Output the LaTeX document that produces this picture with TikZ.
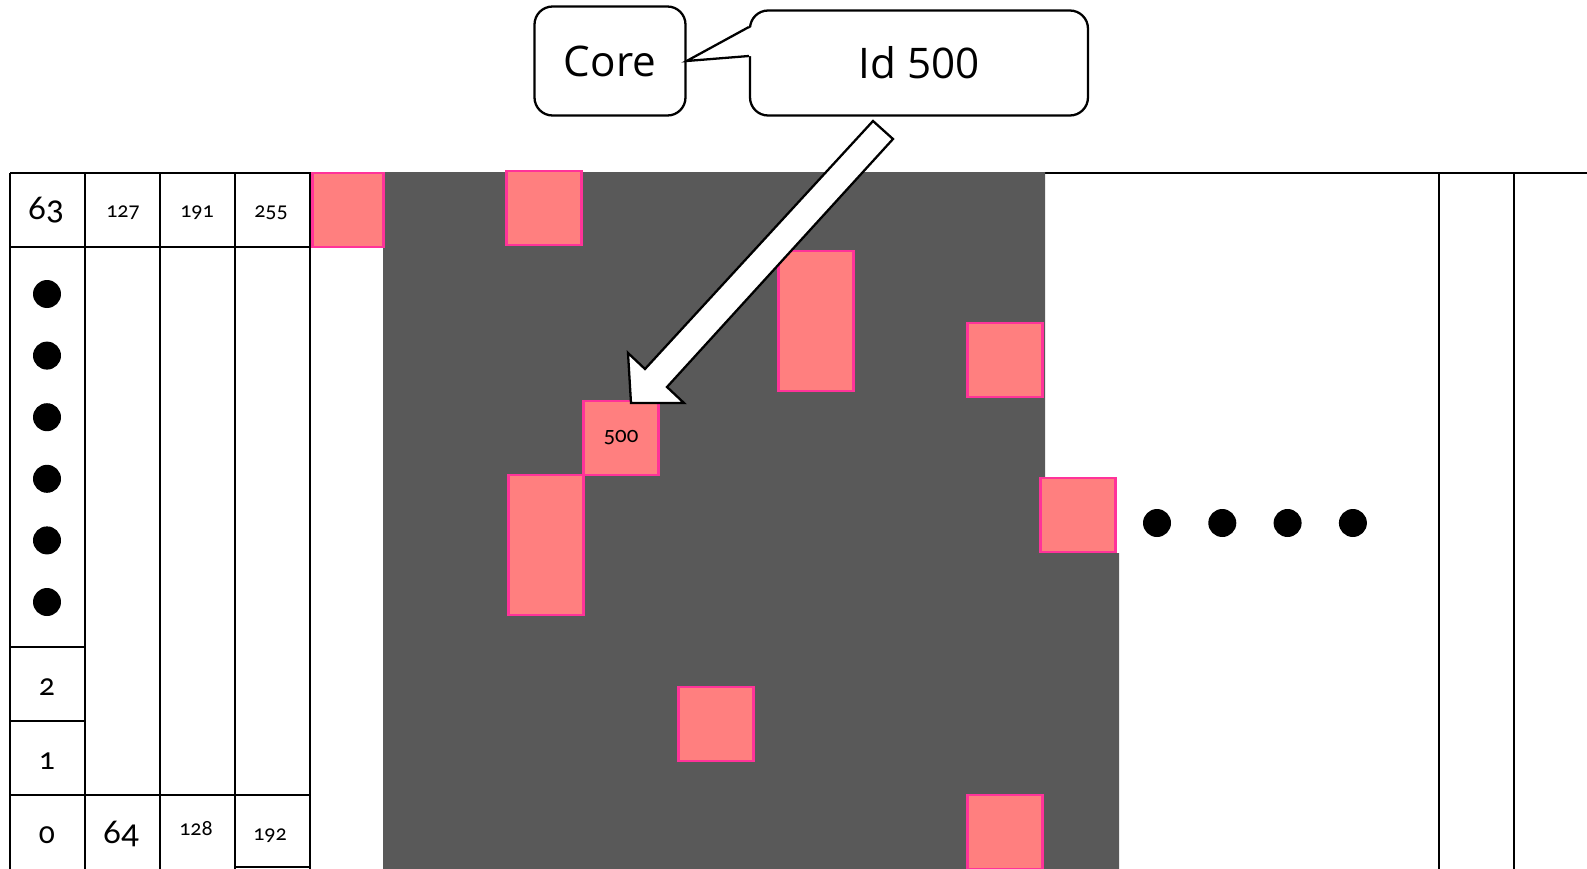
\documentclass[tikz,border=0pt]{standalone}
\usepackage{fontspec}
\setmainfont{Open Sans}
\newfontfamily\numfont[Numbers=OldStyle]{Carlito}
\usetikzlibrary{positioning,calc}
\definecolor{coregray}{HTML}{595959}
\definecolor{hitfill}{HTML}{FF7F7F}
\definecolor{hitline}{HTML}{FF3399}

\begin{document}
\begin{tikzpicture}[x=0.02cm, y=-0.02cm,
    gridline/.style={line width=1.3pt},
    smallnum/.style={anchor=base, inner sep=0pt, font=\numfont\fontsize{12.5}{12.5}\selectfont},
    midnum/.style={anchor=base, inner sep=0pt, font=\numfont\fontsize{18}{18}\selectfont},
    bignum/.style={anchor=base, inner sep=0pt, font=\numfont\fontsize{20}{20}\selectfont},
    hit/.style={draw=hitline, fill=hitfill, line width=1.2pt, minimum width=1.5cm, minimum height=1.48cm, inner sep=0pt, font=\numfont\fontsize{13}{13}\selectfont},
    tallhit/.style={hit, minimum height=2.8cm},
    dot/.style={circle, fill=black, minimum size=0.56cm, inner sep=0pt},
    bubble/.style={draw, rounded corners=0.36cm, line width=1.3pt, fill=white, inner sep=0pt, font=\fontsize{24}{24}\selectfont}
]
    \useasboundingbox (0,0) rectangle (1587,869);

    % table on the left and lines on the right
    \draw[gridline] (10,173) -- (1587,173);
    \foreach \x in {10,85,160,235,310,1439,1514}
        \draw[gridline] (\x,173) -- (\x,869);
    \draw[gridline] (10,247) -- (310,247);
    \draw[gridline] (10,647) -- (85,647);
    \draw[gridline] (10,721) -- (85,721);
    \draw[gridline] (10,795) -- (310,795);
    \draw[gridline] (235,867) -- (310,867);

    \node[bignum] (n63) at (46,219) {63};
    \node[smallnum] (n127) at (123,217) {127};
    \node[smallnum] (n191) at (197,217) {191};
    \node[smallnum] (n255) at (271,217) {255};
    \node[midnum] (n2) at (47,695) {2};
    \node[midnum] (n1) at (47,769) {1};
    \node[midnum] (n0) at (47,843) {0};
    \node[bignum] (n64) at (121,843) {64};
    \node[smallnum] (n128) at (196,835) {128};
    \node[smallnum] (n192) at (270,840) {192};

    \foreach \i in {0,...,5}
        \node[dot] (vdot\i) at (47,294+61.6*\i) {};

    % cores
    \fill[coregray] (383,172) -- (1045,172) -- (1045,553) -- (1119,553) -- (1119,869) -- (383,869) -- cycle;

    \node[hit, minimum width=1.42cm] (h0) at (348,210) {};
    \node[hit] (h1) at (544,208) {};
    \node[tallhit] (h2) at (816,321) {};
    \node[hit] (h3) at (1005,360) {};
    \node[hit] (h500) at (621,438) {500};
    \node[tallhit] (h4) at (546,545) {};
    \node[hit] (h5) at (1078,515) {};
    \node[hit] (h6) at (716,724) {};
    \node[hit] (h7) at (1005,832) {};

    \foreach \i in {0,...,3}
        \node[dot] (hdot\i) at (1157+65.3*\i,523) {};

    % block arrow down to core 500
    \coordinate (tip) at (631,403);
    \draw[line width=1.3pt, fill=white, line join=miter]
        (873,121) -- (893,139) -- (667,387) -- (684,403) -- (tip)
        -- (628,353) -- (645,369) -- cycle;

    % callout
    \node[bubble, minimum width=3.02cm, minimum height=2.18cm] (core) at (610,61) {Core};
    \node[bubble, minimum width=6.76cm, minimum height=2.1cm] (ident) at (919,63) {Id 500};
    \coordinate (pa) at ($(ident.west)+(0,-36)$);
    \coordinate (pb) at ($(ident.west)+(0,-7)$);
    \fill[white] ($(pa)+(3,0)$) -- (core.east) -- ($(pb)+(3,0)$) -- cycle;
    \draw[line width=1.3pt] (pa) -- (core.east) -- (pb);
\end{tikzpicture}
\end{document}
